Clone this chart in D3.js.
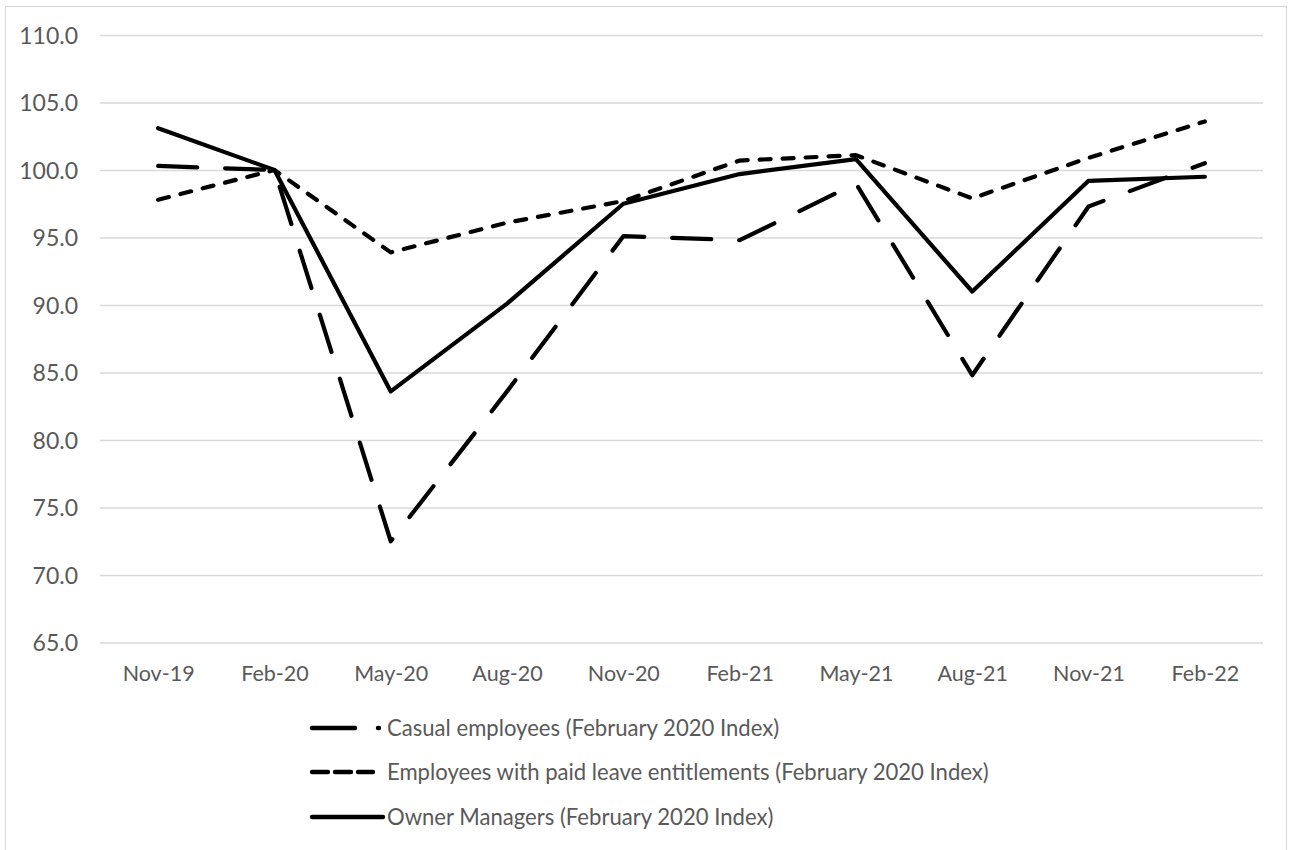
<!DOCTYPE html>
<html>
<head>
<meta charset="utf-8">
<script src="https://cdn.jsdelivr.net/npm/d3@7"></script>
<style>
  html, body { margin: 0; padding: 0; background: #ffffff; }
  svg { display: block; }
  text { font-family: Lato, "Open Sans", sans-serif; fill: #595959; }
</style>
</head>
<body>
<svg id="chart" width="1292" height="850"></svg>
<script>
// Quarterly index values, February 2020 = 100
const quarters = ["Nov-19", "Feb-20", "May-20", "Aug-20", "Nov-20", "Feb-21", "May-21", "Aug-21", "Nov-21", "Feb-22"];
const casualEmployees = [100.3, 100.0, 72.5, 83.6, 95.1, 94.8, 99.0, 84.8, 97.3, 100.5];
const paidLeaveEmployees = [97.8, 100.0, 93.9, 96.1, 97.7, 100.7, 101.1, 97.9, 100.9, 103.6];
const ownerManagers = [103.1, 100.0, 83.6, 90.1, 97.5, 99.7, 100.8, 91.0, 99.2, 99.5];
const yTicks = [65, 70, 75, 80, 85, 90, 95, 100, 105, 110];

const seriesNames = [
  "Casual employees (February 2020 Index)",
  "Employees with paid leave entitlements (February 2020 Index)",
  "Owner Managers (February 2020 Index)"
];
const seriesValues = [casualEmployees, paidLeaveEmployees, ownerManagers];
const seriesDash = ["39 28", "11 12", null];
const legendDash = ["43 23", "16 7", null];

const svg = d3.select("#chart");

// outer chart frame
svg.append("rect")
  .attr("x", 5.5).attr("y", 6.5)
  .attr("width", 1281).attr("height", 860)
  .attr("fill", "#ffffff")
  .attr("stroke", "#d9d9d9").attr("stroke-width", 1.2);

const plot = { left: 100, right: 1263, top: 35, bottom: 642.5 };

const x = d3.scalePoint()
  .domain(quarters)
  .range([plot.left, plot.right])
  .padding(0.5);

const y = d3.scaleLinear()
  .domain([65, 110])
  .range([plot.bottom, plot.top]);

// horizontal gridlines + value labels
const yAxis = d3.axisLeft(y)
  .tickValues(yTicks)
  .tickSize(-(plot.right - plot.left))
  .tickPadding(22)
  .tickFormat(d3.format(".1f"));

const gy = svg.append("g")
  .attr("transform", `translate(${plot.left},0)`)
  .call(yAxis);
gy.select(".domain").remove();
gy.selectAll(".tick line").attr("stroke", "#d9d9d9").attr("stroke-width", 1.4);
gy.selectAll(".tick text")
  .attr("fill", "#595959")
  .style("font-size", "23px")
  .attr("dy", "0.36em");

// category labels
const xAxis = d3.axisBottom(x).tickSize(0).tickPadding(23);
const gx = svg.append("g")
  .attr("transform", `translate(0,${plot.bottom})`)
  .call(xAxis);
gx.select(".domain").remove();
gx.selectAll(".tick text")
  .attr("fill", "#595959")
  .style("font-size", "21.5px");

// series lines
const line = d3.line()
  .x((d, i) => x(quarters[i]))
  .y(d => y(d));

seriesValues.forEach((vals, k) => {
  const p = svg.append("path")
    .datum(vals)
    .attr("d", line)
    .attr("fill", "none")
    .attr("stroke", "#000000")
    .attr("stroke-width", 4.2)
    .attr("stroke-linejoin", "round")
    .attr("stroke-linecap", "round");
  if (seriesDash[k]) p.attr("stroke-dasharray", seriesDash[k]);
});

// legend
const legendRows = [728, 772, 817];
const legendEnd = [379, 373, 383];
const legend = svg.append("g");
seriesNames.forEach((name, k) => {
  const row = legend.append("g").attr("transform", `translate(0,${legendRows[k]})`);
  const sample = row.append("line")
    .attr("x1", 312).attr("x2", legendEnd[k])
    .attr("y1", 0).attr("y2", 0)
    .attr("stroke", "#000000")
    .attr("stroke-width", 4.4)
    .attr("stroke-linecap", "round");
  if (legendDash[k]) sample.attr("stroke-dasharray", legendDash[k]);
  row.append("text")
    .attr("x", 387).attr("y", 0)
    .attr("dy", "0.36em")
    .style("font-size", "22.1px")
    .text(name);
});
</script>
</body>
</html>
